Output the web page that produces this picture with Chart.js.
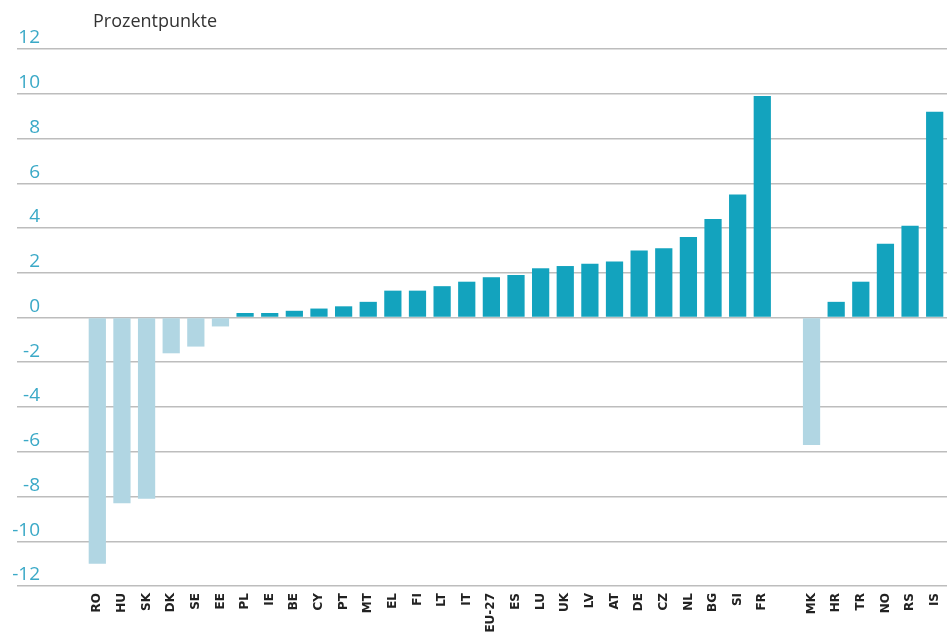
<!DOCTYPE html>
<html>
<head>
<meta charset="utf-8">
<script src="https://cdn.jsdelivr.net/npm/chart.js@4"></script>
<style>
    html, body { margin: 0; padding: 0; background: #fff; }
    canvas { display: block; }
</style>
</head>
<body>
<canvas id="chart" width="951" height="633"></canvas>
<script>
const countries = ['RO', 'HU', 'SK', 'DK', 'SE', 'EE', 'PL', 'IE', 'BE', 'CY', 'PT', 'MT', 'EL', 'FI', 'LT', 'IT',
    'EU-27', 'ES', 'LU', 'UK', 'LV', 'AT', 'DE', 'CZ', 'NL', 'BG', 'SI', 'FR', '', 'MK', 'HR', 'TR', 'NO', 'RS', 'IS'];
const changes = [-11.0, -8.3, -8.1, -1.6, -1.3, -0.4, 0.2, 0.2, 0.3, 0.4, 0.5, 0.7, 1.2, 1.2, 1.4, 1.6,
    1.8, 1.9, 2.2, 2.3, 2.4, 2.5, 3.0, 3.1, 3.6, 4.4, 5.5, 9.9, null, -5.7, 0.7, 1.6, 3.3, 4.1, 9.2];
const yTicks = [-12, -10, -8, -6, -4, -2, 0, 2, 4, 6, 8, 10, 12];

const UP_COLOR = '#13a3be';
const DOWN_COLOR = '#b1d6e3';
const TICK_COLOR = '#3aa9c7';
const GRID_COLOR = '#bdbdbd';

const unitLabel = {
    id: 'unitLabel',
    afterDraw(chart) {
        const { ctx } = chart;
        ctx.save();
        ctx.font = '18px "Open Sans"';
        ctx.fillStyle = '#333';
        ctx.textBaseline = 'alphabetic';
        ctx.fillText('Prozentpunkte', 93, 27);
        ctx.restore();
    }
};

new Chart(document.getElementById('chart'), {
    type: 'bar',
    data: {
        labels: countries,
        datasets: [{
            data: changes,
            backgroundColor: changes.map(v => (v < 0 ? DOWN_COLOR : UP_COLOR)),
            borderWidth: 0,
            categoryPercentage: 1,
            barPercentage: 0.7,
        }]
    },
    options: {
        responsive: false,
        animation: false,
        layout: { padding: { top: 49, right: 4, left: 0, bottom: 0 } },
        plugins: {
            legend: { display: false },
            tooltip: { enabled: false },
        },
        scales: {
            x: {
                grid: { display: false, drawTicks: false },
                border: { display: false },
                ticks: {
                    autoSkip: false,
                    minRotation: 90,
                    maxRotation: 90,
                    padding: 7,
                    color: '#222',
                    font: { family: 'DejaVu Sans', size: 12, weight: 'bold' },
                },
                afterFit(scale) {
                    scale.height = 47;
                    scale.paddingLeft = 0;
                    scale.paddingRight = 0;
                },
            },
            y: {
                min: -12,
                max: 12,
                afterBuildTicks(scale) {
                    scale.ticks = yTicks.map(value => ({ value }));
                },
                grid: {
                    color: GRID_COLOR,
                    lineWidth: 1.5,
                    drawTicks: true,
                    tickLength: 68,
                },
                border: { display: false },
                ticks: {
                    crossAlign: 'near',
                    padding: -23,
                    labelOffset: -11,
                    color: TICK_COLOR,
                    font: { family: 'Open Sans', size: 19 },
                },
                afterFit(scale) { scale.width = 85; },
            }
        }
    },
    plugins: [unitLabel],
});
</script>
</body>
</html>
